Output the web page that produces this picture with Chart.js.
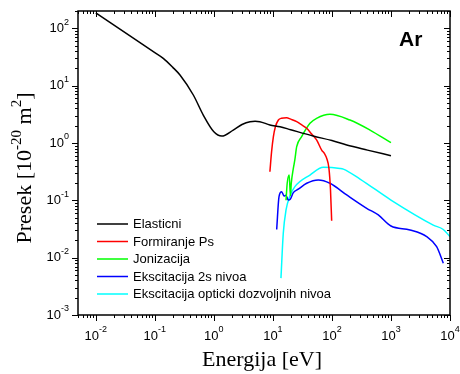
<!DOCTYPE html>
<html lang="sr">
<head>
<meta charset="UTF-8">
<title>Presek - Ar</title>
<script src="https://cdn.jsdelivr.net/npm/chart.js@4.4.1/dist/chart.umd.min.js"></script>
<style>
  body { margin: 0; background: #fff; }
  #grafik { display: block; }
</style>
</head>
<body>
<canvas id="grafik" width="460" height="374"></canvas>
<script>
// energije [eV] i preseci [10^-20 m^2]
const elasticE = [0.01, 0.05, 0.1, 0.139, 0.2, 0.267, 0.449, 0.662, 1.0, 1.36, 2.13, 3.0, 4.1, 5.0, 6.0, 8.9, 13.2, 20, 48, 100, 178, 400, 1000];
const elasticS = [186, 61, 37.7, 29.9, 21, 15.3, 6.86, 3.07, 1.57, 1.32, 1.68, 2.1, 2.35, 2.38, 2.35, 2.06, 1.92, 1.7, 1.32, 1.1, 0.92, 0.75, 0.6];

const psE = [8.9, 9.5, 10.2, 11, 12.4, 14, 17.1, 20, 25.3, 30, 37.4, 45, 55, 67, 75, 81.5, 89, 94.6, 99];
const psS = [0.315, 0.7, 1.29, 1.9, 2.51, 2.7, 2.76, 2.6, 2.35, 2.1, 1.8, 1.45, 1.13, 0.75, 0.65, 0.54, 0.36, 0.151, 0.044];

const ionE = [16.7, 17.5, 18.9, 19.8, 20.5, 22.2, 23.5, 25.3, 30.7, 42.5, 55, 92.7, 202, 441, 1000];
const ionS = [0.10, 0.2, 0.276, 0.12, 0.2, 0.36, 0.5, 0.86, 1.29, 2.2, 2.69, 3.16, 2.51, 1.68, 1.01];

const exc2sE = [11.6, 12.7, 14.1, 15.4, 16.6, 18.2, 19.8, 22.2, 26.9, 37.4, 58.8, 92.7, 178, 388, 610, 1000, 2100, 4030, 5940, 7700];
const exc2sS = [0.031, 0.116, 0.141, 0.119, 0.123, 0.101, 0.105, 0.136, 0.156, 0.198, 0.226, 0.198, 0.124, 0.0726, 0.0555, 0.0356, 0.0304, 0.0232, 0.0155, 0.008];

const excOptE = [13.7, 15, 16.7, 19.5, 23.6, 42.5, 71.4, 137, 156, 299, 1000, 5210, 7700, 10000];
const excOptS = [0.0044, 0.0266, 0.068, 0.12, 0.173, 0.276, 0.376, 0.36, 0.35, 0.235, 0.101, 0.037, 0.031, 0.0232];

const seriesNames = ['Elasticni', 'Formiranje Ps', 'Jonizacija', 'Ekscitacija 2s nivoa', 'Ekscitacija opticki dozvoljnih nivoa'];
const seriesColors = ['#000000', '#ff0000', '#00ff00', '#0000ff', '#00ffff'];

const xExponents = [-2, -1, 0, 1, 2, 3, 4];
const yExponents = [-3, -2, -1, 0, 1, 2];

function toPoints(xs, ys) {
  return xs.map((x, i) => ({ x: x, y: ys[i] }));
}

const allSeries = [
  toPoints(elasticE, elasticS),
  toPoints(psE, psS),
  toPoints(ionE, ionS),
  toPoints(exc2sE, exc2sS),
  toPoints(excOptE, excOptS)
];

const datasets = allSeries.map((pts, i) => ({
  label: seriesNames[i],
  data: pts,
  borderColor: seriesColors[i],
  borderWidth: 1.5,
  pointRadius: 0,
  showLine: true,
  fill: false,
  cubicInterpolationMode: 'monotone'
}));

const SANS = '"Liberation Sans", Arial, sans-serif';
const SERIF = '"Liberation Serif", "Times New Roman", serif';

// "10" sa eksponentom, poravnat oko (x, y)
function drawPow(ctx, exp, x, y, align) {
  ctx.font = '13px ' + SANS;
  const wBase = ctx.measureText('10').width;
  ctx.font = '9px ' + SANS;
  const wExp = ctx.measureText(String(exp)).width;
  const total = wBase + wExp;
  let left = x;
  if (align === 'center') left = x - total / 2;
  if (align === 'right') left = x - total;
  ctx.textAlign = 'left';
  ctx.textBaseline = 'middle';
  ctx.font = '13px ' + SANS;
  ctx.fillText('10', left, y);
  ctx.font = '9px ' + SANS;
  ctx.fillText(String(exp), left + wBase, y - 6);
}

// decade + minor tick vrednosti u opsegu
function tickValues(min, max) {
  const out = [];
  for (let k = Math.floor(Math.log10(min)); k <= Math.ceil(Math.log10(max)); k++) {
    for (let m = 1; m <= 9; m++) {
      const v = m * Math.pow(10, k);
      if (v >= min * 0.999 && v <= max * 1.001) out.push({ v: v, major: m === 1 });
    }
  }
  return out;
}

const okvir = {
  id: 'okvir',
  afterDatasetsDraw(chart) {
    const ctx = chart.ctx;
    const a = chart.chartArea;
    const xs = chart.scales.x;
    const ys = chart.scales.y;
    ctx.save();
    ctx.strokeStyle = '#000';
    ctx.fillStyle = '#000';

    // okvir
    ctx.lineWidth = 1.5;
    ctx.strokeRect(a.left, a.top, a.right - a.left, a.bottom - a.top);

    // crtice: levo/dole napolje, gore/desno unutra
    ctx.lineWidth = 1;
    ctx.beginPath();
    tickValues(xs.min, xs.max).forEach(t => {
      const px = Math.round(xs.getPixelForValue(t.v)) + 0.5;
      const len = t.major ? 6 : 3;
      ctx.moveTo(px, a.bottom); ctx.lineTo(px, a.bottom + len);
      ctx.moveTo(px, a.top); ctx.lineTo(px, a.top + len);
    });
    tickValues(ys.min, ys.max).forEach(t => {
      const py = Math.round(ys.getPixelForValue(t.v)) + 0.5;
      const len = t.major ? 6 : 3;
      ctx.moveTo(a.left, py); ctx.lineTo(a.left - len, py);
      ctx.moveTo(a.right, py); ctx.lineTo(a.right - len, py);
    });
    ctx.stroke();

    // oznake osa
    xExponents.forEach(e => {
      drawPow(ctx, e, xs.getPixelForValue(Math.pow(10, e)), a.bottom + 21, 'center');
    });
    yExponents.forEach(e => {
      drawPow(ctx, e, a.left - 9, ys.getPixelForValue(Math.pow(10, e)), 'right');
    });

    // naslov x ose
    ctx.font = '22px ' + SERIF;
    ctx.textAlign = 'center';
    ctx.textBaseline = 'middle';
    ctx.fillText('Energija [eV]', (a.left + a.right) / 2 - 2, 360);

    // naslov y ose (rotiran)
    ctx.save();
    ctx.translate(25, 168);
    ctx.rotate(-Math.PI / 2);
    const parts = [
      ['Presek [10', 22, 0],
      ['-20', 15, -8],
      [' m', 22, 0],
      ['2', 15, -8],
      [']', 22, 0]
    ];
    let total = 0;
    parts.forEach(p => { ctx.font = p[1] + 'px ' + SERIF; total += ctx.measureText(p[0]).width; });
    let cx = -total / 2;
    ctx.textAlign = 'left';
    parts.forEach(p => {
      ctx.font = p[1] + 'px ' + SERIF;
      ctx.fillText(p[0], cx, p[2]);
      cx += ctx.measureText(p[0]).width;
    });
    ctx.restore();

    // Ar
    ctx.font = 'bold 21px ' + SANS;
    ctx.textAlign = 'left';
    ctx.fillText('Ar', 399, 40);

    // legenda
    const legY = [224, 241.5, 259, 276.5, 294];
    chart.data.datasets.forEach((ds, i) => {
      ctx.strokeStyle = ds.borderColor;
      ctx.lineWidth = 1.5;
      ctx.beginPath();
      ctx.moveTo(97, legY[i]);
      ctx.lineTo(128, legY[i]);
      ctx.stroke();
      ctx.fillStyle = '#000';
      ctx.font = '13px ' + SANS;
      ctx.textAlign = 'left';
      ctx.textBaseline = 'middle';
      ctx.fillText(ds.label, 133, legY[i] + 0.5);
    });
    ctx.restore();
  }
};

new Chart(document.getElementById('grafik'), {
  type: 'scatter',
  data: { datasets: datasets },
  options: {
    responsive: false,
    animation: false,
    layout: { padding: { left: 78, top: 11, right: 10, bottom: 59 } },
    plugins: { legend: { display: false }, tooltip: { enabled: false } },
    scales: {
      x: { type: 'logarithmic', min: 0.005, max: 10000, display: false },
      y: { type: 'logarithmic', min: 0.001, max: 200, display: false }
    }
  },
  plugins: [okvir]
});
</script>
</body>
</html>
